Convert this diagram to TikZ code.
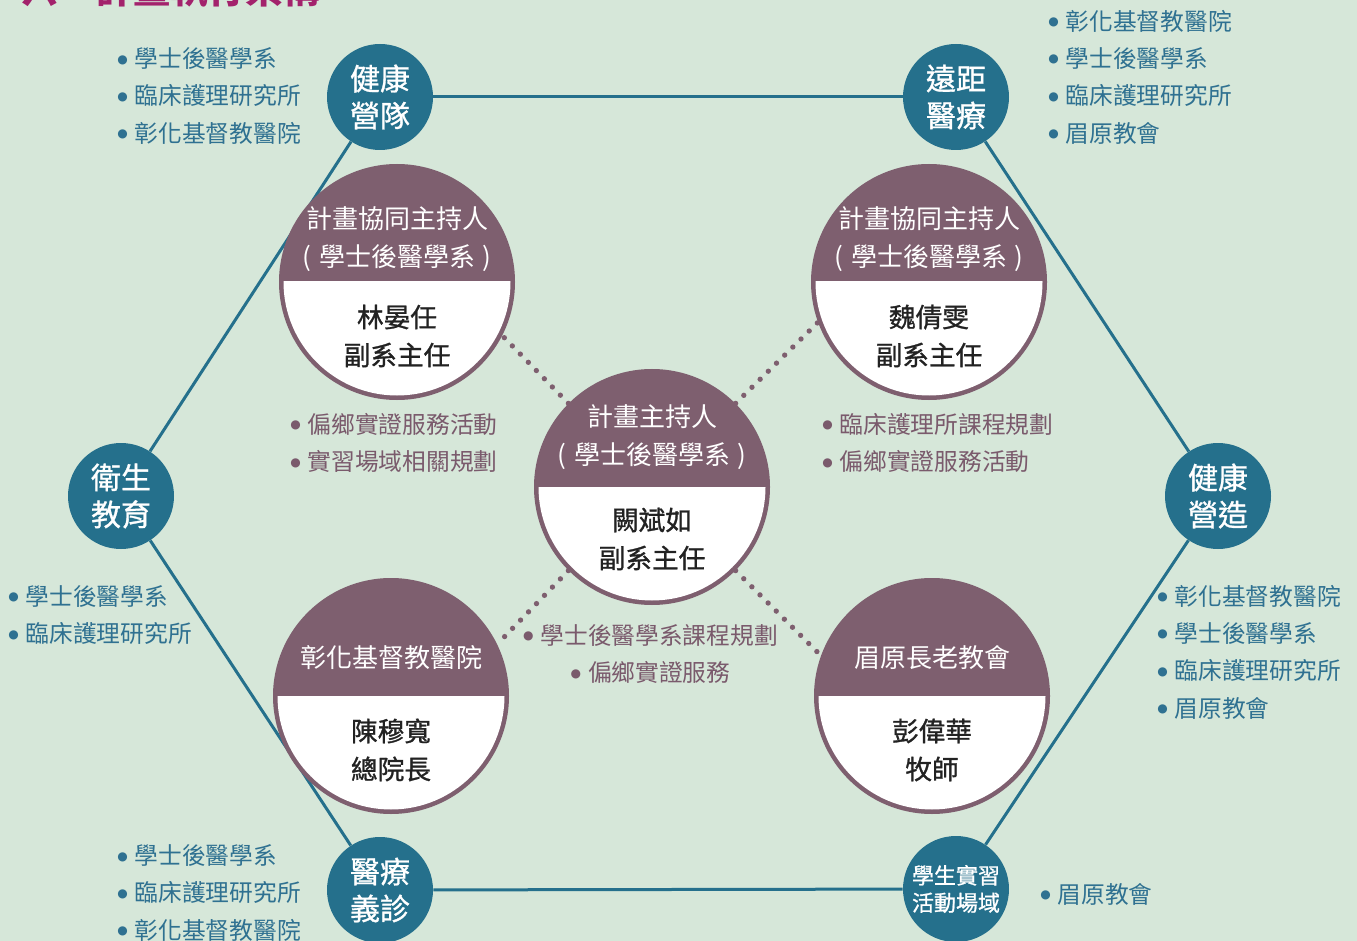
\documentclass[tikz,border=0pt]{standalone}
\usepackage{fontspec}
\setmainfont{Noto Sans CJK TC}
\newfontfamily\medfont{Noto Sans CJK TC}[FakeBold=1]
\newfontfamily\bulfont{DejaVu Sans}
\usetikzlibrary{calc}
\definecolor{bgc}{HTML}{D6E7D9}
\definecolor{blu}{HTML}{25708C}
\definecolor{blutxt}{HTML}{2F7191}
\definecolor{pur}{HTML}{7E5F6F}
\definecolor{purtxt}{HTML}{7A5A6C}
\definecolor{mag}{HTML}{A3226C}
\definecolor{dark}{HTML}{222222}
\newcommand\bul{\makebox[6.5pt][c]{\raisebox{3.4pt}{\bulfont\fontsize{9pt}{9pt}\selectfont ●}}\hspace{5.8pt}}
\pgfdeclarelayer{bg}
\pgfdeclarelayer{lines}
\pgfsetlayers{bg,lines,main}
\tikzset{
  bluec/.style={circle, fill=blu, minimum size=79.5pt, inner sep=0pt, text=white, align=center,
    font=\medfont\fontsize{22.5pt}{27.75pt}\selectfont},
  pc/.style={circle, fill=pur, minimum size=177pt, inner sep=0pt},
  headtxt/.style={text=white, align=center, inner sep=0pt, font=\fontsize{19.5pt}{28.5pt}\selectfont},
  bodytxt/.style={text=dark, align=center, inner sep=0pt, font=\medfont\fontsize{20pt}{28.5pt}\selectfont},
  blist/.style={text=blutxt, align=left, anchor=west, inner sep=0pt, font=\fontsize{17.8pt}{28pt}\selectfont},
  plist/.style={text=purtxt, align=left, anchor=west, inner sep=0pt, font=\fontsize{17.8pt}{28pt}\selectfont},
  hexline/.style={blu, line width=2.25pt},
  dotline/.style={pur, line width=4pt, line cap=round, dash pattern=on 0pt off 8.6pt}
}
\newcommand\pcirc[3]{%
  \node[pc] (#1) at (#2,#3) {};
  \begin{scope}
    \clip (#2-120,#3) rectangle (#2+120,#3+120);
    \fill[white] (#2,#3) circle[radius=113.5];
  \end{scope}}
\newcommand\paren[1]{(\hspace{0.3em}#1\hspace{0.3em})}
\begin{document}
\begin{tikzpicture}[x=0.75pt,y=-0.75pt]
\begin{pgfonlayer}{bg}
  \fill[bgc] (0,0) rectangle (1357,941);
\end{pgfonlayer}
\useasboundingbox (0,0) rectangle (1357,941);

% title (partly cut off at the top)
\node[anchor=base west, inner sep=0pt, text=mag, font=\bfseries\fontsize{28pt}{30pt}\selectfont] (title) at (21,4) {六、計畫執行架構};

% blue circles
\node[bluec] (hc) at (380,97) {健康\\營隊};
\node[bluec] (yl) at (956,97) {遠距\\醫療};
\node[bluec] (ws) at (121,496) {衛生\\教育};
\node[bluec] (jz) at (1218,496) {健康\\營造};
\node[bluec] (yz) at (380,890) {醫療\\義診};
\node[bluec, font=\medfont\fontsize{16.5pt}{20.5pt}\selectfont] (sx) at (956,889) {學生實習\\活動場域};

% hexagon connectors
\begin{pgfonlayer}{lines}
  \draw[hexline] (hc) -- (yl);
  \draw[hexline] (yl) -- (jz);
  \draw[hexline] (jz) -- (sx);
  \draw[hexline] (sx) -- (yz);
  \draw[hexline] (yz) -- (ws);
  \draw[hexline] (ws) -- (hc);
\end{pgfonlayer}

% purple circles
\pcirc{copa}{397}{282}
\pcirc{copb}{929}{282}
\pcirc{pi}{652}{487}
\pcirc{chh}{391}{696}
\pcirc{myc}{932}{696}

\node[headtxt] (copah) at (397,239) {計畫協同主持人\\\paren{學士後醫學系}};
\node[bodytxt] (copab) at (397,336) {林晏任\\副系主任};
\node[headtxt] (copbh) at (929,239) {計畫協同主持人\\\paren{學士後醫學系}};
\node[bodytxt] (copbb) at (929,336) {魏倩雯\\副系主任};
\node[headtxt] (pih) at (652,437) {計畫主持人\\\paren{學士後醫學系}};
\node[bodytxt] (pib) at (652,539) {闕斌如\\副系主任};
\node[headtxt] (chhh) at (391,658) {彰化基督教醫院};
\node[bodytxt] (chhb) at (391,750) {陳穆寬\\總院長};
\node[headtxt] (mych) at (932,658) {眉原長老教會};
\node[bodytxt] (mycb) at (932,750) {彭偉華\\牧師};

% dotted links
\draw[dotline] (pi.135) -- (copa.-27.6);
\draw[dotline] (pi.45) -- (copb.-160.5);
\draw[dotline] (pi.-135) -- (chh.26.8);
\draw[dotline] (pi.-45) -- (myc.160.2);

% purple lists
\node[plist] (la) at (291,443) {\bul 偏鄉實證服務活動\\\bul 實習場域相關規劃};
\node[plist] (lb) at (823,443) {\bul 臨床護理所課程規劃\\\bul 偏鄉實證服務活動};
\node[plist, anchor=center, align=center] (lc) at (651,654) {\bul 學士後醫學系課程規劃\\\bul 偏鄉實證服務};

% blue lists
\node[blist] (ba) at (118,96) {\bul 學士後醫學系\\\bul 臨床護理研究所\\\bul 彰化基督教醫院};
\node[blist] (bb) at (1049,77) {\bul 彰化基督教醫院\\\bul 學士後醫學系\\\bul 臨床護理研究所\\\bul 眉原教會};
\node[blist] (bc) at (9,615) {\bul 學士後醫學系\\\bul 臨床護理研究所};
\node[blist] (bd) at (1158,652) {\bul 彰化基督教醫院\\\bul 學士後醫學系\\\bul 臨床護理研究所\\\bul 眉原教會};
\node[blist] (be) at (118,893) {\bul 學士後醫學系\\\bul 臨床護理研究所\\\bul 彰化基督教醫院};
\node[blist] (bf) at (1041,894) {\bul 眉原教會};
\end{tikzpicture}
\end{document}
